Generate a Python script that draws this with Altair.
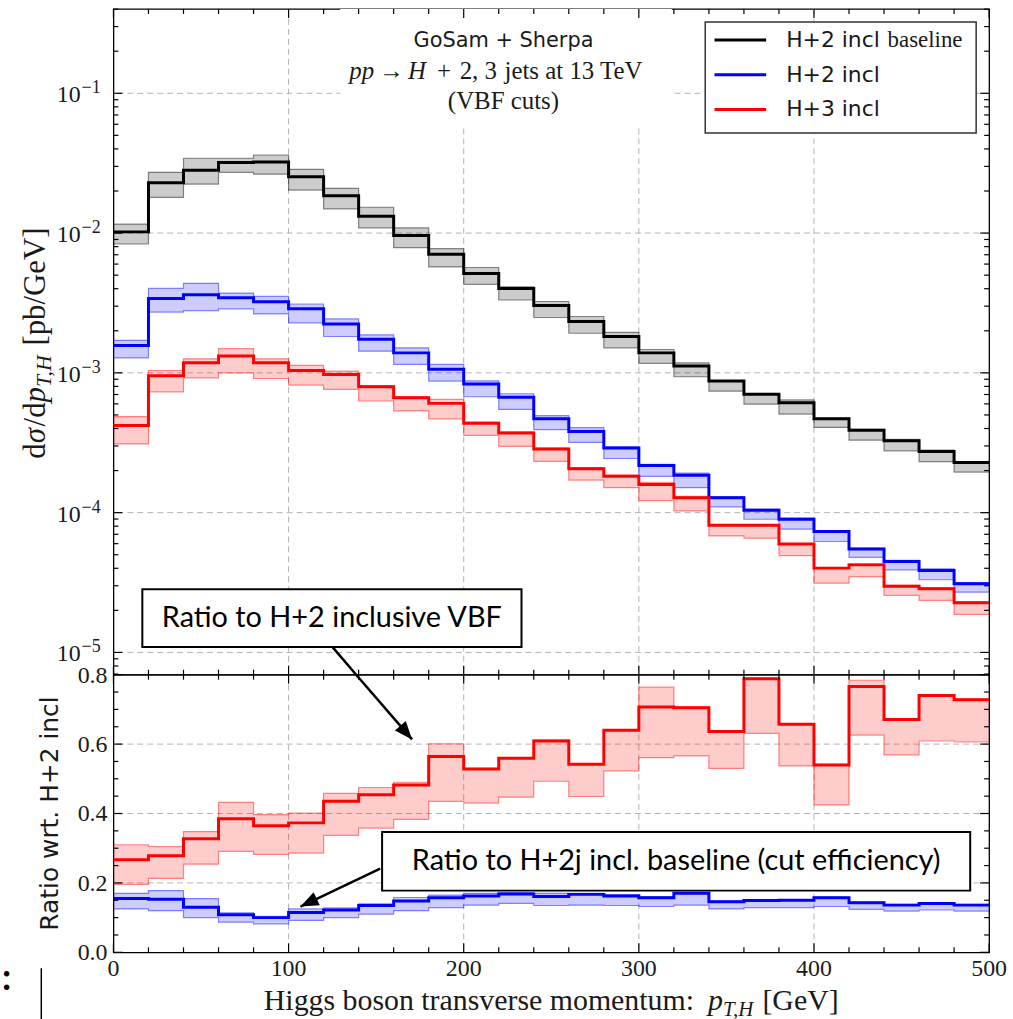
import altair as alt
import pandas as pd

# ---------------- data ----------------
BIN_LO = list(range(0, 500, 20))   # lower bin edges [GeV]
X_END = 500

SERIES_NAMES = ["H+2 incl", "H+2 incl", "H+3 incl"]

BASE_C = [0.0102, 0.0229, 0.0282, 0.0320, 0.0322, 0.0253, 0.0185, 0.0132, 0.00962, 0.00706,
          0.00514, 0.00402, 0.00303, 0.00233, 0.00182, 0.00139, 0.00112, 0.000873, 0.000703, 0.000612,
          0.000469, 0.000389, 0.000327, 0.000274, 0.000228]
BASE_HI = [0.0116, 0.0272, 0.0343, 0.0343, 0.0362, 0.0286, 0.0209, 0.0153, 0.0109, 0.00773,
           0.00567, 0.00413, 0.00324, 0.00253, 0.00195, 0.00147, 0.00118, 0.00088, 0.00071, 0.00064,
           0.000475, 0.000395, 0.000335, 0.00028, 0.000232]
BASE_LO = [0.00835, 0.0180, 0.0224, 0.0272, 0.0264, 0.0203, 0.0149, 0.0109, 0.00787, 0.00573,
           0.0043, 0.00332, 0.00249, 0.00192, 0.00151, 0.00117, 0.000938, 0.00074, 0.000597, 0.000507,
           0.000407, 0.00033, 0.000277, 0.000232, 0.000195]

H2_C = [0.00157, 0.00341, 0.00362, 0.00344, 0.00323, 0.00287, 0.00224, 0.00174, 0.00139, 0.00106,
        0.000832, 0.000668, 0.000469, 0.000381, 0.00029, 0.000217, 0.000185, 0.000128, 0.000104, 0.0000897,
        0.0000733, 0.000055, 0.0000447, 0.0000386, 0.000031]
H2_HI = [0.00171, 0.00402, 0.00437, 0.00372, 0.00352, 0.00311, 0.00243, 0.00187, 0.00151, 0.00115,
         0.000877, 0.000709, 0.000494, 0.000406, 0.000296, 0.000222, 0.000192, 0.00013, 0.000106, 0.0000915,
         0.0000745, 0.0000558, 0.0000455, 0.0000397, 0.0000316]
H2_LO = [0.00128, 0.00272, 0.00279, 0.00287, 0.00264, 0.00228, 0.00182, 0.00143, 0.00115, 0.000873,
         0.000675, 0.000548, 0.000392, 0.000318, 0.000244, 0.000182, 0.000151, 0.00011, 0.0000897, 0.0000762,
         0.0000622, 0.0000479, 0.000039, 0.0000331, 0.000027]

H3_C = [0.00042, 0.000952, 0.00118, 0.00132, 0.00118, 0.00104, 0.000973, 0.000795, 0.000664, 0.000605,
        0.000436, 0.000371, 0.000285, 0.000206, 0.000182, 0.000159, 0.000128, 0.0000813, 0.0000813, 0.0000596,
        0.0000401, 0.0000423, 0.0000298, 0.0000285, 0.0000227]
H3_HI = [0.000487, 0.00104, 0.00126, 0.00149, 0.00126, 0.00113, 0.00103, 0.00081, 0.000675, 0.000646,
         0.000445, 0.000378, 0.00029, 0.00021, 0.000186, 0.000165, 0.000131, 0.0000818, 0.0000818, 0.0000600,
         0.0000404, 0.0000430, 0.0000302, 0.0000290, 0.0000230]
H3_LO = [0.00031, 0.000732, 0.000921, 0.001, 0.000911, 0.000818, 0.000761, 0.000629, 0.000534, 0.000469,
         0.000357, 0.000298, 0.000233, 0.000171, 0.000151, 0.000122, 0.000103, 0.0000682, 0.0000657, 0.0000492,
         0.0000313, 0.0000349, 0.0000256, 0.0000236, 0.0000187]

# ratio panel
R3_C = [0.267, 0.278, 0.327, 0.385, 0.365, 0.373, 0.435, 0.454, 0.482, 0.564, 0.528, 0.559, 0.609,
        0.542, 0.640, 0.707, 0.705, 0.636, 0.788, 0.657, 0.540, 0.766, 0.671, 0.740, 0.728]
R3_HI = [0.310, 0.305, 0.348, 0.432, 0.397, 0.401, 0.458, 0.475, 0.490, 0.601, 0.530, 0.561, 0.612,
         0.544, 0.642, 0.764, 0.707, 0.638, 0.790, 0.659, 0.542, 0.784, 0.673, 0.742, 0.730]
R3_LO = [0.196, 0.213, 0.254, 0.291, 0.282, 0.286, 0.337, 0.358, 0.383, 0.435, 0.430, 0.447, 0.493,
         0.449, 0.523, 0.561, 0.566, 0.530, 0.631, 0.537, 0.425, 0.626, 0.569, 0.609, 0.606]

R2_C = [0.155, 0.153, 0.130, 0.108, 0.100, 0.115, 0.122, 0.135, 0.148, 0.157, 0.162, 0.168, 0.161,
        0.167, 0.162, 0.157, 0.170, 0.146, 0.149, 0.150, 0.157, 0.143, 0.136, 0.141, 0.136]
R2_HI = [0.170, 0.178, 0.155, 0.114, 0.104, 0.125, 0.128, 0.140, 0.158, 0.165, 0.170, 0.172, 0.170,
         0.170, 0.166, 0.160, 0.172, 0.148, 0.151, 0.152, 0.159, 0.145, 0.138, 0.143, 0.138]
R2_LO = [0.125, 0.120, 0.100, 0.087, 0.082, 0.092, 0.100, 0.110, 0.120, 0.129, 0.136, 0.141, 0.135,
         0.136, 0.135, 0.132, 0.136, 0.125, 0.129, 0.129, 0.132, 0.124, 0.119, 0.122, 0.119]

# tick positions / labels
X_MAJOR = [0, 100, 200, 300, 400, 500]
X_MINOR = [v for v in range(20, 500, 20) if v % 100]
TOP_DECADES = [1e-5, 1e-4, 1e-3, 1e-2, 1e-1]
TOP_EXP = ["\u22125", "\u22124", "\u22123", "\u22122", "\u22121"]
TOP_MINOR = [k * 10.0 ** e for e in range(-6, 0) for k in range(2, 10) if 6.93e-6 <= k * 10.0 ** e <= 0.401]
R_MAJOR = [0.0, 0.2, 0.4, 0.6, 0.8]
R_LABELS = ["0.0", "0.2", "0.4", "0.6", "0.8"]
R_MINOR = [0.05, 0.1, 0.15, 0.25, 0.3, 0.35, 0.45, 0.5, 0.55, 0.65, 0.7, 0.75]

# ---------------- style ----------------
SERIF = "Liberation Serif"
SANS = "DejaVu Sans"
BOXF = "Lato"
TXT = "#1a1a1a"
BLACK, BLUE, RED = "#000000", "#0000ff", "#ff0000"
W, HT, HB = 880, 669, 279

XS = alt.Scale(domain=[0, 500], nice=False, zero=False)
YT = alt.Scale(type="log", domain=[6.93e-6, 0.401], nice=False)
YB = alt.Scale(domain=[0, 0.8], nice=False, zero=False)
GRID = dict(color="#b3b3b3", strokeWidth=1, strokeDash=[6, 4])


def X(f="x"):
    return alt.X(f"{f}:Q", scale=XS, axis=None)


def Y(f, ysc):
    return alt.Y(f"{f}:Q", scale=ysc, axis=None)


def step_frame(c, hi, lo):
    return pd.DataFrame({"x": BIN_LO + [X_END], "c": c + c[-1:], "hi": hi + hi[-1:], "lo": lo + lo[-1:]})


def band_layers(df, color, ysc):
    b = alt.Chart(df)
    out = [b.mark_area(interpolate="step-after", color=color, opacity=0.2).encode(
        x=X(), y=Y("hi", ysc), y2="lo:Q")]
    for k in ("hi", "lo"):
        out.append(b.mark_line(interpolate="step-after", color=color, strokeWidth=1.2, opacity=0.45)
                   .encode(x=X(), y=Y(k, ysc)))
    return out


def center_layer(df, color, ysc):
    return alt.Chart(df).mark_line(interpolate="step-after", color=color, strokeWidth=3).encode(
        x=X(), y=Y("c", ysc))


def vgrid(vals):
    return alt.Chart(pd.DataFrame({"v": vals})).mark_rule(**GRID).encode(x=X("v"))


def hgrid(vals, ysc):
    return alt.Chart(pd.DataFrame({"v": vals})).mark_rule(**GRID).encode(y=Y("v", ysc))


def tick_layers(xvals, yvals, ysc, H, L):
    out = []
    dx = alt.Chart(pd.DataFrame({"v": xvals}))
    dy = alt.Chart(pd.DataFrame({"v": yvals}))
    for a, b in ((0, L), (H, H - L)):
        out.append(dx.mark_rule(color="black", strokeWidth=1.2).encode(x=X("v"), y=alt.value(a), y2=alt.value(b)))
    for a, b in ((0, L), (W, W - L)):
        out.append(dy.mark_rule(color="black", strokeWidth=1.2).encode(y=Y("v", ysc), x=alt.value(a), x2=alt.value(b)))
    return out


def txt(x, y, s, ysc, **kw):
    return alt.Chart(pd.DataFrame({"x": [x], "y": [y], "t": [s]})).mark_text(**kw).encode(
        x=X(), y=Y("y", ysc), text="t:N")


def txt_px(x, y, s, **kw):
    return alt.Chart(pd.DataFrame({"t": [s]})).mark_text(**kw).encode(
        x=alt.value(x), y=alt.value(y), text="t:N")


def rect(x1, x2, y1, y2, ysc, **kw):
    return alt.Chart(pd.DataFrame({"x": [x1], "x2": [x2], "y": [y1], "y2": [y2]})).mark_rect(**kw).encode(
        x=X(), x2="x2:Q", y=Y("y", ysc), y2="y2:Q")


def seg(x1, y1, x2, y2, ysc, **kw):
    return alt.Chart(pd.DataFrame({"x": [x1], "x2": [x2], "y": [y1], "y2": [y2]})).mark_rule(**kw).encode(
        x=X(), x2="x2:Q", y=Y("y", ysc), y2="y2:Q")


def head(x, y, ang, ysc):
    return alt.Chart(pd.DataFrame({"x": [x], "y": [y]})).mark_point(
        shape="M0,0L-0.4,1L0.4,1Z", filled=True, size=1300, angle=ang, color="black", opacity=1,
        strokeWidth=0).encode(x=X(), y=Y("y", ysc))


# ---------------- top panel ----------------
top_series = [(step_frame(BASE_C, BASE_HI, BASE_LO), BLACK),
              (step_frame(H2_C, H2_HI, H2_LO), BLUE),
              (step_frame(H3_C, H3_HI, H3_LO), RED)]

T = [hgrid(TOP_DECADES, YT), vgrid([100, 200, 300, 400])]
for df, col in top_series:
    T += band_layers(df, col, YT)
for df, col in top_series:
    T.append(center_layer(df, col, YT))

# title block
T.append(rect(129.5, 318.8, 0.401, 0.0589, YT, fill="white", strokeWidth=0))
T.append(txt(222.7, 0.214, "GoSam + Sherpa", YT, align="center", baseline="alphabetic", font=SANS, fontSize=21, color=TXT))
for xg, s, sty in [(134.7, "pp", "italic"), (151.7, "\u2192", "normal"), (168.2, "H", "italic"),
                   (184.7, "+", "normal"), (197.7, "2, 3", "normal"), (223.3, "jets at 13 TeV", "normal")]:
    T.append(txt(xg, 0.1272, s, YT, align="left", baseline="alphabetic", font=SERIF, fontSize=25,
                 fontStyle=sty, color=TXT))
T.append(txt(222.7, 0.0778, "(VBF cuts)", YT, align="center", baseline="alphabetic", font=SERIF, fontSize=25, color=TXT))

# legend
T.append(rect(337.9, 492.6, 0.324, 0.0519, YT, fill="white", stroke="#333333", strokeWidth=1.5))
for yv, col, name in [(0.241, BLACK, SERIES_NAMES[0]), (0.1358, BLUE, SERIES_NAMES[1]), (0.0766, RED, SERIES_NAMES[2])]:
    T.append(seg(343.2, yv, 372.7, yv, YT, color=col, strokeWidth=3))
    T.append(txt(384.1, yv, name, YT, align="left", baseline="middle", font=SANS, fontSize=22, color=TXT))
T.append(txt(442.0, 0.241, "baseline", YT, align="left", baseline="middle", font=SERIF, fontSize=23, color=TXT))

# annotation box 1
T.append(rect(16.5, 233.0, 2.835e-5, 1.0956e-5, YT, fill="white", stroke="black", strokeWidth=2))
T.append(txt(124.7, 1.762e-5, "Ratio to H+2 inclusive VBF", YT, align="center", baseline="middle",
             font=BOXF, fontSize=29, color="black"))
T.append(seg(125.0, 1.0956e-5, 138.6, 6.93e-6, YT, color="black", strokeWidth=2.5))

# ticks
T += tick_layers(X_MAJOR, TOP_DECADES, YT, HT, 9)
T += tick_layers(X_MINOR, TOP_MINOR, YT, HT, 5)

# y tick labels 10^n
ylab = pd.DataFrame({"v": TOP_DECADES, "e": TOP_EXP})
T.append(alt.Chart(ylab).mark_text(align="right", baseline="middle", font=SERIF, fontSize=24, dy=2, color=TXT)
         .encode(y=Y("v", YT), x=alt.value(-33), text=alt.value("10")))
T.append(alt.Chart(ylab).mark_text(align="left", baseline="middle", font=SERIF, fontSize=18, dy=-5, color=TXT)
         .encode(y=Y("v", YT), x=alt.value(-32), text="e:N"))

# y title: dσ/dp_{T,H} [pb/GeV]
YTX = -69
for yy, s, sty, fs, ddy in [(452, "d", "normal", 31, 0), (436.5, "\u03c3", "italic", 31, 0),
                            (419.5, "/d", "normal", 31, 0), (395.4, "p", "italic", 31, 0),
                            (379.9, "T,H", "italic", 22, 6), (338.3, "[pb/GeV]", "normal", 31, 0)]:
    T.append(txt_px(YTX, yy, s, angle=270, align="left", baseline="alphabetic", font=SERIF, fontSize=fs,
                    fontStyle=sty, dy=ddy, color=TXT))

# invisible left anchor (keeps both panels aligned)
T.append(alt.Chart(pd.DataFrame({"a": [0]})).mark_rule(color="white", strokeWidth=1).encode(
    x=alt.value(-112), x2=alt.value(-111), y=alt.value(300), y2=alt.value(301)))

top = alt.layer(*T).properties(width=W, height=HT)

# ---------------- ratio panel ----------------
bot_series = [(step_frame(R3_C, R3_HI, R3_LO), RED), (step_frame(R2_C, R2_HI, R2_LO), BLUE)]
B = [hgrid([0.2, 0.4, 0.6], YB), vgrid([100, 200, 300, 400])]
for df, col in bot_series:
    B += band_layers(df, col, YB)
for df, col in bot_series:
    B.append(center_layer(df, col, YB))

B += tick_layers(X_MAJOR, R_MAJOR, YB, HB, 9)
B += tick_layers(X_MINOR, R_MINOR, YB, HB, 5)

# tick labels
B.append(alt.Chart(pd.DataFrame({"v": X_MAJOR, "t": [str(v) for v in X_MAJOR]})).mark_text(
    align="center", baseline="alphabetic", font=SERIF, fontSize=24, color=TXT).encode(
    x=X("v"), y=alt.value(303), text="t:N"))
B.append(alt.Chart(pd.DataFrame({"v": R_MAJOR, "t": R_LABELS})).mark_text(
    align="right", baseline="middle", font=SERIF, fontSize=24, dy=1, color=TXT).encode(
    y=Y("v", YB), x=alt.value(-6), text="t:N"))

# annotation box 2 + arrows
B.append(rect(153.4, 489.2, 0.347, 0.1778, YB, fill="white", stroke="black", strokeWidth=2))
B.append(txt(321.3, 0.2624, "Ratio to H+2j incl. baseline (cut efficiency)", YB, align="center",
             baseline="middle", font=BOXF, fontSize=29, color="black"))
B.append(seg(152.3, 0.2409, 106.8, 0.1319, YB, color="black", strokeWidth=2.5))
B.append(head(106.8, 0.1319, 244.6, YB))
B.append(seg(138.6, 0.8, 170.5, 0.6136, YB, color="black", strokeWidth=2.5))
B.append(head(170.5, 0.6136, 139.3, YB))

# axis titles
B.append(txt_px(-64, HB / 2, "Ratio wrt. H+2 incl", angle=270, align="center", baseline="middle",
                font=SANS, fontSize=25, color=TXT))
for xx, s, sty, fs, ddy in [(151.1, "Higgs boson transverse momentum:", "normal", 30, 0),
                            (597.6, "p", "italic", 30, 0), (612.6, "T,H", "italic", 21, 6),
                            (652.2, "[GeV]", "normal", 30, 0)]:
    B.append(txt_px(xx, 337, s, align="left", baseline="alphabetic", font=SERIF, fontSize=fs,
                    fontStyle=sty, dy=ddy, color=TXT))

# slide artefacts at the left edge
B.append(txt_px(-112, 317, ":", align="left", baseline="alphabetic", font=BOXF, fontSize=36,
                fontWeight="bold", color="black"))
B.append(alt.Chart(pd.DataFrame({"a": [0]})).mark_rule(color="black", strokeWidth=1.5).encode(
    x=alt.value(-72.5), y=alt.value(295), y2=alt.value(346)))

bot = alt.layer(*B).properties(width=W, height=HB)

chart = (alt.vconcat(top, bot, spacing=0, bounds="flush")
         .properties(padding={"left": 0, "top": 4.5, "right": 5, "bottom": 0})
         .configure_view(stroke="black", strokeWidth=1.3))

chart.save("out.html", embed_options={"renderer": "svg", "actions": False})
